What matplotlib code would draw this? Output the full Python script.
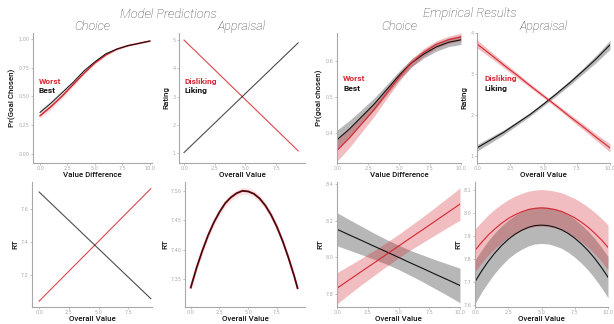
import numpy as np
import matplotlib
matplotlib.use("Agg")
import matplotlib.pyplot as plt

RED = "#d7262f"
BLACK = "#111111"

# ---- model predictions ----
vd = [0, 1, 2, 3, 4, 5, 6, 7, 8, 9, 10]
m_choice_best = [0.36, 0.44, 0.53, 0.62, 0.72, 0.80, 0.87, 0.91, 0.94, 0.96, 0.98]
m_choice_worst = [0.33, 0.41, 0.50, 0.60, 0.70, 0.79, 0.86, 0.91, 0.94, 0.96, 0.98]
m_choice_se = [0.03, 0.028, 0.024, 0.02, 0.017, 0.014, 0.011, 0.009, 0.007, 0.006, 0.005]

ov_m = [0, 9.3]
m_liking = [1.02, 4.9]
m_disliking = [5.0, 1.08]

ov_rt = [0, 9.4]
m_rt_best = [7.70, 7.06]
m_rt_worst = [7.045, 7.72]

ov_q = [0, 0.5, 1, 1.5, 2, 2.5, 3, 3.5, 4, 4.5, 5, 5.5, 6, 6.5, 7, 7.5, 8, 8.5, 9, 9.3]
m_rt_quad = [7.336, 7.369, 7.398, 7.424, 7.446, 7.464, 7.479, 7.489, 7.496, 7.500,
             7.499, 7.495, 7.487, 7.475, 7.459, 7.439, 7.415, 7.387, 7.356, 7.335]

# ---- empirical results ----
xs = [0, 1, 2, 3, 4, 5, 6, 7, 8, 9, 10]
e_choice_best = [0.38, 0.41, 0.445, 0.48, 0.52, 0.56, 0.595, 0.62, 0.64, 0.653, 0.66]
e_choice_best_se = [0.027, 0.024, 0.02, 0.017, 0.014, 0.012, 0.011, 0.011, 0.012, 0.012, 0.013]
e_choice_worst = [0.35, 0.385, 0.425, 0.465, 0.51, 0.555, 0.595, 0.625, 0.647, 0.66, 0.668]
e_choice_worst_se = [0.03, 0.027, 0.023, 0.019, 0.015, 0.012, 0.011, 0.011, 0.01, 0.01, 0.011]

e_liking = [1.19, 1.38, 1.57, 1.79, 2.01, 2.26, 2.52, 2.79, 3.08, 3.38, 3.71]
e_liking_se = [0.08, 0.07, 0.06, 0.05, 0.045, 0.045, 0.05, 0.06, 0.07, 0.09, 0.11]
e_disliking = [3.73, 3.48, 3.22, 2.97, 2.71, 2.46, 2.21, 1.95, 1.70, 1.44, 1.19]
e_disliking_se = [0.1, 0.08, 0.07, 0.06, 0.05, 0.045, 0.05, 0.06, 0.07, 0.08, 0.1]

e_rt_best = [8.153, 8.122, 8.092, 8.061, 8.031, 8.0, 7.969, 7.939, 7.908, 7.878, 7.847]
e_rt_best_se = [0.09, 0.083, 0.077, 0.071, 0.067, 0.066, 0.068, 0.073, 0.079, 0.086, 0.094]
e_rt_worst = [7.832, 7.878, 7.924, 7.969, 8.015, 8.061, 8.107, 8.152, 8.198, 8.244, 8.29]
e_rt_worst_se = [0.085, 0.078, 0.072, 0.068, 0.065, 0.064, 0.066, 0.07, 0.075, 0.081, 0.088]

xh = [0, 0.5, 1, 1.5, 2, 2.5, 3, 3.5, 4, 4.5, 5, 5.5, 6, 6.5, 7, 7.5, 8, 8.5, 9, 9.5, 10]
e_rtq_worst = [7.837, 7.872, 7.904, 7.931, 7.955, 7.976, 7.992, 8.005, 8.015, 8.020, 8.022,
               8.020, 8.015, 8.007, 7.994, 7.979, 7.960, 7.938, 7.912, 7.883, 7.850]
e_rtq_worst_se = [0.093, 0.09, 0.088, 0.086, 0.084, 0.082, 0.081, 0.08, 0.08, 0.08, 0.08,
                  0.08, 0.08, 0.081, 0.082, 0.084, 0.086, 0.088, 0.091, 0.094, 0.098]
e_rtq_best = [7.700, 7.747, 7.789, 7.826, 7.858, 7.885, 7.907, 7.924, 7.937, 7.945, 7.947,
              7.945, 7.938, 7.927, 7.911, 7.890, 7.865, 7.836, 7.802, 7.763, 7.720]
e_rtq_best_se = [0.095, 0.092, 0.09, 0.088, 0.086, 0.084, 0.083, 0.082, 0.081, 0.08, 0.08,
                 0.08, 0.081, 0.081, 0.082, 0.083, 0.084, 0.085, 0.087, 0.088, 0.09]

fig = plt.figure(figsize=(6.14, 3.24), dpi=100)

def px_axes(l, t, r, b):
    W, H = 614, 324
    return fig.add_axes([l / W, 1 - b / H, (r - l) / W, (b - t) / H])

lfont = dict(family="Roboto", fontweight="medium", color="#111111")

def style(ax, xlabel, ylabel, xticks, yticks, yfmt):
    for s in ["top", "right"]:
        ax.spines[s].set_visible(False)
    for s in ["left", "bottom"]:
        ax.spines[s].set_color("#a8a8a8")
        ax.spines[s].set_linewidth(0.8)
    ax.set_xticks(xticks)
    ax.set_xticklabels(["%.1f" % t for t in xticks])
    ax.set_yticks(yticks)
    ax.set_yticklabels([yfmt % t for t in yticks])
    ax.tick_params(labelsize=3.5, labelcolor="#aaaaaa", color="#aaaaaa",
                   length=1.5, width=0.5, pad=1)
    ax.set_xlabel(xlabel, fontsize=5.7, labelpad=0.5, **lfont)
    ax.set_ylabel(ylabel, fontsize=5.7, labelpad=2, **lfont)

def band(ax, x, y, se, color, alpha, lw):
    y = np.array(y)
    se = np.array(se)
    ax.fill_between(x, y - se, y + se, color=color, alpha=alpha, lw=0)
    ax.plot(x, y, color=color, lw=lw)

def legend(ax, x, y, top, bottom):
    ax.text(x, y, top, transform=ax.transAxes, color=RED, fontsize=6, family="Roboto", fontweight="bold")
    ax.text(x, y - 0.075, bottom, transform=ax.transAxes, color=BLACK, fontsize=6, family="Roboto", fontweight="bold")

tfont = dict(family="Roboto", fontweight="light", style="italic", color="#444444")
fig.text(168 / 614, 1 - 14 / 324, "Model Predictions", ha="center", va="center", fontsize=9.3, **tfont)
fig.text(470 / 614, 1 - 14 / 324, "Empirical Results", ha="center", va="center", fontsize=9.3, **tfont)

# panel 1
ax = px_axes(33, 33, 152, 163)
band(ax, vd, m_choice_worst, m_choice_se, RED, 0.12, 1.1)
band(ax, vd, m_choice_best, m_choice_se, BLACK, 0.08, 0.7)
ax.set_xlim(-0.64, 10.2)
ax.set_ylim(-0.08, 1.05)
style(ax, "Value Difference", "Pr(Goal Chosen)", [0, 2.5, 5, 7.5, 10], [0, 0.25, 0.5, 0.75, 1.0], "%.2f")
legend(ax, 0.05, 0.61, "Worst", "Best")
ax.set_title("Choice", fontsize=9, pad=2, **tfont)

# panel 2
ax = px_axes(179, 33, 305, 163)
ax.plot(ov_m, m_disliking, color=RED, lw=0.8, alpha=0.85)
ax.plot(ov_m, m_liking, color=BLACK, lw=0.8, alpha=0.75)
ax.set_xlim(-0.41, 9.86)
ax.set_ylim(0.65, 5.25)
style(ax, "Overall Value", "Rating", [0, 2.5, 5, 7.5], [1, 2, 3, 4, 5], "%d")
legend(ax, 0.04, 0.61, "Disliking", "Liking")
ax.set_title("Appraisal", fontsize=9, pad=2, **tfont)

# panel 3
ax = px_axes(337, 33, 461, 163)
band(ax, xs, e_choice_best, e_choice_best_se, BLACK, 0.3, 0.8)
band(ax, xs, e_choice_worst, e_choice_worst_se, RED, 0.3, 0.8)
ax.set_xlim(0, 10)
ax.set_ylim(0.315, 0.679)
style(ax, "Value Difference", "Pr(goal chosen)", [0, 2.5, 5, 7.5, 10], [0.4, 0.5, 0.6], "%.1f")
legend(ax, 0.05, 0.63, "Worst", "Best")
ax.set_title("Choice", fontsize=9, pad=2, **tfont)

# panel 4
ax = px_axes(477, 33, 610, 163)
band(ax, xs, e_liking, e_liking_se, BLACK, 0.3, 0.8)
band(ax, xs, e_disliking, e_disliking_se, RED, 0.3, 0.8)
ax.set_xlim(0, 10)
ax.set_ylim(0.82, 4.0)
style(ax, "Overall Value", "Rating", [0, 2.5, 5, 7.5, 10], [1, 2, 3, 4], "%d")
legend(ax, 0.06, 0.63, "Disliking", "Liking")
ax.set_title("Appraisal", fontsize=9, pad=2, **tfont)

# panel 5
ax = px_axes(32, 182, 152, 307)
ax.plot(ov_rt, m_rt_worst, color=RED, lw=0.8, alpha=0.85)
ax.plot(ov_rt, m_rt_best, color=BLACK, lw=0.8, alpha=0.75)
ax.set_xlim(-0.6, 9.5)
ax.set_ylim(7.01, 7.76)
style(ax, "Overall Value", "RT", [0, 2.5, 5, 7.5], [7.2, 7.4, 7.6], "%.1f")

# panel 6
ax = px_axes(185, 182, 305, 307)
ax.fill_between(ov_q, np.array(m_rt_quad) - 0.006, np.array(m_rt_quad) + 0.006, color=RED, alpha=0.12, lw=0)
ax.plot(ov_q, m_rt_quad, color="#a01018", lw=1.4)
ax.plot(ov_q, m_rt_quad, color=BLACK, lw=0.6)
ax.set_xlim(-0.5, 9.95)
ax.set_ylim(7.303, 7.515)
style(ax, "Overall Value", "RT", [0, 2.5, 5, 7.5], [7.35, 7.40, 7.45, 7.50], "%.2f")

# panel 7
ax = px_axes(337, 182, 460, 307)
band(ax, xs, e_rt_best, e_rt_best_se, BLACK, 0.3, 0.8)
band(ax, xs, e_rt_worst, e_rt_worst_se, RED, 0.3, 0.8)
ax.set_xlim(0, 10)
ax.set_ylim(7.73, 8.41)
style(ax, "Overall Value", "RT", [0, 2.5, 5, 7.5, 10], [7.8, 8.0, 8.2, 8.4], "%.1f")

# panel 8
ax = px_axes(475, 182, 608, 307)
band(ax, xh, e_rtq_best, e_rtq_best_se, BLACK, 0.3, 0.8)
band(ax, xh, e_rtq_worst, e_rtq_worst_se, RED, 0.3, 0.8)
ax.set_xlim(0, 10)
ax.set_ylim(7.59, 8.135)
style(ax, "Overall Value", "RT", [0, 2.5, 5, 7.5, 10], [7.6, 7.7, 7.8, 7.9, 8.0, 8.1], "%.1f")

fig.savefig("out.png", dpi=100)
